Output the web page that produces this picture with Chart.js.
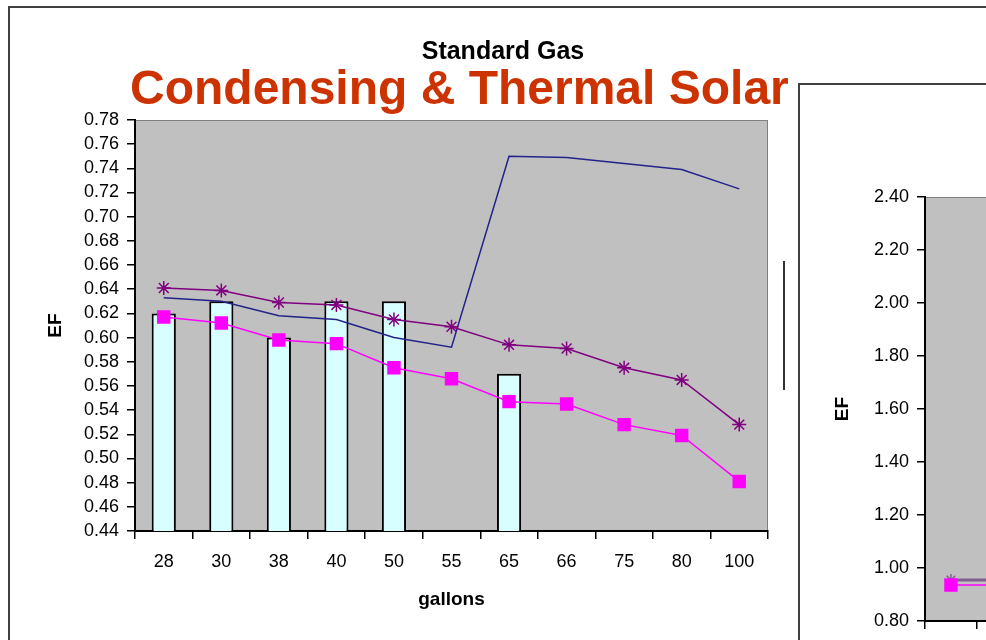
<!DOCTYPE html>
<html>
<head>
<meta charset="utf-8">
<script src="https://cdn.jsdelivr.net/npm/chart.js@4.4.0/dist/chart.umd.min.js"></script>
<style>
    html, body { margin: 0; padding: 0; background: #fff; overflow: hidden; }
    body { width: 986px; height: 640px; position: relative; font-family: "Liberation Sans", Arial, sans-serif; }
    .frame-top { position: absolute; left: 8px; top: 6px; width: 978px; height: 2px; background: #404040; }
    .frame-left { position: absolute; left: 8px; top: 6px; width: 2px; height: 634px; background: #404040; }
    .short-line { position: absolute; left: 783px; top: 261px; width: 2px; height: 129px; background: #333; }
    #mainChart { position: absolute; left: 0; top: 0; }
    .right-box { position: absolute; left: 798px; top: 83px; width: 188px; height: 557px; overflow: hidden;
                 border-left: 2px solid #404040; border-top: 2px solid #404040; box-sizing: border-box; }
    #sideChart { position: absolute; left: -2px; top: -2px; }
    .chart-title { position: absolute; left: 403px; top: 36px; width: 200px; text-align: center;
                   font: bold 25px "Liberation Sans", Arial, sans-serif; line-height: 28px; color: #000; }
    .overlay-title { position: absolute; left: 130px; top: 64px; font: bold 48px "Liberation Sans", Arial, sans-serif;
                     line-height: 48px; color: #CC3300; white-space: nowrap; z-index: 5; }
</style>
</head>
<body>
<div class="frame-top"></div>
<div class="frame-left"></div>
<div class="short-line"></div>
<canvas id="mainChart" width="790" height="640"></canvas>
<div class="right-box"><canvas id="sideChart" width="720" height="640"></canvas></div>
<div class="chart-title">Standard Gas</div>
<div class="overlay-title">Condensing &amp; Thermal Solar</div>

<script>
// data
const categories = ['28', '30', '38', '40', '50', '55', '65', '66', '75', '80', '100'];
const barValues = [0.62, 0.63, 0.60, 0.63, 0.63, null, 0.57, null, null, null, null];
const navyValues = [0.633, 0.630, 0.618, 0.615, 0.600, 0.592, 0.750, 0.749, 0.744, 0.739, 0.723];
const starValues = [0.641, 0.639, 0.629, 0.627, 0.615, 0.609, 0.594, 0.591, 0.575, 0.565, 0.528];
const squareValues = [0.617, 0.612, 0.598, 0.595, 0.575, 0.566, 0.547, 0.545, 0.528, 0.519, 0.481];
const yMin = 0.44, yMax = 0.78, yStep = 0.02;

// right chart (only its first point is visible)
const sideStarValues = [0.955, 0.955, null, null, null, null, null, null, null, null, null];
const sideSquareValues = [0.936, 0.936, null, null, null, null, null, null, null, null, null];
const sideMin = 0.80, sideMax = 2.40, sideStep = 0.20;

const FONT = '"Liberation Sans", Arial, sans-serif';

// grey plot background like the old Excel charts
const plotBackground = {
    id: 'plotBackground',
    beforeDraw(chart) {
        const { ctx, chartArea: a } = chart;
        ctx.save();
        ctx.fillStyle = '#C0C0C0';
        ctx.fillRect(a.left, a.top, a.right - a.left, a.bottom - a.top);
        ctx.strokeStyle = '#808080';
        ctx.lineWidth = 1;
        ctx.strokeRect(a.left + 0.5, a.top + 0.5, a.right - a.left - 1, a.bottom - a.top - 1);
        ctx.restore();
    }
};

function yAxis(min, max, step, width, titlePad) {
    return {
        min: min, max: max,
        afterFit: s => { s.width = width; },
        ticks: { stepSize: step, autoSkip: false, padding: 8, color: '#000',
                 font: { family: FONT, size: 18 }, callback: v => Number(v).toFixed(2) },
        grid: { drawOnChartArea: false, drawTicks: true, tickLength: 8, color: '#000', lineWidth: 1.5 },
        border: { color: '#000', width: 2 },
        title: { display: true, text: 'EF', color: '#000', padding: { top: titlePad, bottom: 0 },
                 font: { family: FONT, size: 19, weight: 'bold' } }
    };
}

function xAxis(height, showTitle, labelPad) {
    return {
        offset: true,
        afterFit: s => { s.height = height; },
        ticks: { padding: labelPad, color: '#000', font: { family: FONT, size: 18 }, maxRotation: 0 },
        grid: { offset: true, drawOnChartArea: false, drawTicks: true, tickLength: 8, color: '#000', lineWidth: 1.5 },
        border: { color: '#000', width: 2 },
        title: { display: showTitle, text: 'gallons', color: '#000', padding: { top: 4, bottom: 29 },
                 font: { family: FONT, size: 19, weight: 'bold' } }
    };
}

new Chart(document.getElementById('mainChart'), {
    type: 'bar',
    data: {
        labels: categories,
        datasets: [
            { type: 'line', data: squareValues, borderColor: '#FF00FF', backgroundColor: '#FF00FF',
              borderWidth: 1.5, pointStyle: 'rect', pointRadius: 9.5, pointBorderWidth: 0, tension: 0, order: 1 },
            { type: 'line', data: starValues, borderColor: '#800080', backgroundColor: '#800080',
              borderWidth: 1.5, pointStyle: 'star', pointRadius: 7, pointBorderWidth: 1.5, tension: 0, order: 2 },
            { type: 'line', data: navyValues, borderColor: '#22228A', borderWidth: 1.5,
              pointRadius: 0, tension: 0, order: 3 },
            { type: 'bar', data: barValues, backgroundColor: '#D8FFFF', borderColor: '#000', borderWidth: 2,
              barPercentage: 0.42, categoryPercentage: 1, order: 10 }
        ]
    },
    options: {
        responsive: false,
        animation: false,
        layout: { padding: { left: 0, right: 22, top: 120, bottom: 0 } },
        plugins: {
            legend: { display: false },
            tooltip: { enabled: false }
        },
        scales: {
            x: xAxis(109, true, 12),
            y: yAxis(yMin, yMax, yStep, 135, 44)
        }
    },
    plugins: [plotBackground]
});

new Chart(document.getElementById('sideChart'), {
    type: 'line',
    data: {
        labels: categories,
        datasets: [
            { data: sideSquareValues, borderColor: '#FF00FF', backgroundColor: '#FF00FF',
              borderWidth: 1.5, pointStyle: 'rect', pointRadius: 9.5, pointBorderWidth: 0, tension: 0, order: 1 },
            { data: sideStarValues, borderColor: '#806090', backgroundColor: '#800080',
              borderWidth: 3, pointStyle: 'star', pointRadius: 6, pointBorderWidth: 1.5, tension: 0, order: 2 }
        ]
    },
    options: {
        responsive: false,
        animation: false,
        layout: { padding: { left: 0, right: 22, top: 114, bottom: 0 } },
        plugins: { legend: { display: false }, tooltip: { enabled: false } },
        scales: {
            x: xAxis(102, false, 24),
            y: yAxis(sideMin, sideMax, sideStep, 127, 33)
        }
    },
    plugins: [plotBackground]
});
</script>
</body>
</html>
